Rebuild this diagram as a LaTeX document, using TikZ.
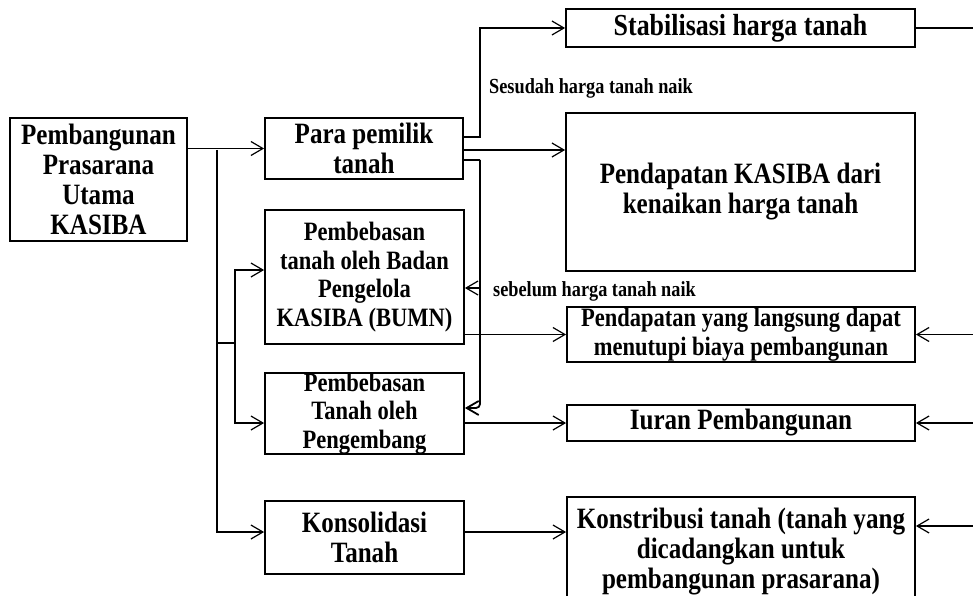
\documentclass[tikz,border=0pt]{standalone}
\usepackage{fontspec}
\setmainfont[FakeStretch=0.85]{Liberation Serif}
\usetikzlibrary{arrows.meta}
\tikzstyle{box}=[draw, line width=1.8pt, rectangle, inner sep=0pt, align=center, font=\bfseries\fontsize{29.5}{30}\selectfont]
\tikzstyle{small box}=[box, font=\bfseries\fontsize{26.5}{28.5}\selectfont]
\tikzstyle{wire}=[line width=1.2pt]
\tikzstyle{link}=[wire, -{Straight Barb[length=12pt, width=14pt]}]
\tikzstyle{note}=[inner sep=0pt, anchor=west, font=\bfseries\fontsize{21.5}{22}\selectfont]

\begin{document}
\begin{tikzpicture}[x=1pt, y=-1pt]
  \useasboundingbox (0,0) rectangle (973,596);
  \clip (0,0) rectangle (973,596);

  % left column
  \node[box, minimum width=177pt, minimum height=123pt] (main) at (98.5,179.5) {Pembangunan\\Prasarana\\Utama\\KASIBA};
  \node[box, minimum width=198pt, minimum height=61pt] (owners) at (364,148.5) {Para pemilik\\tanah};
  \node[small box, minimum width=199pt, minimum height=134pt] (bumn) at (364.5,277) {Pembebasan\\tanah oleh Badan\\Pengelola\\KASIBA (BUMN)};
  \node[small box, minimum width=199pt, minimum height=79pt] (developer) at (364.5,413.5) {Pembebasan\\Tanah oleh\\Pengembang};
  \node[box, minimum width=199pt, minimum height=73pt] (consol) at (364.5,537.5) {Konsolidasi\\Tanah};

  % right column
  \node[box, minimum width=349pt, minimum height=38pt, font=\bfseries\fontsize{30.5}{31}\selectfont] (stable) at (740.5,28) {Stabilisasi harga tanah};
  \node[box, minimum width=349pt, minimum height=158pt] (gain) at (740.5,192) {Pendapatan KASIBA dari\\kenaikan harga tanah};
  \node[small box, minimum width=348pt, minimum height=55pt] (direct) at (741,334.5) {Pendapatan yang langsung dapat\\menutupi biaya pembangunan};
  \node[box, minimum width=348pt, minimum height=36pt] (levy) at (741,423) {Iuran Pembangunan};
  \node[box, minimum width=348pt, minimum height=109pt] (share) at (741,551.5) {Konstribusi tanah (tanah yang\\dicadangkan untuk\\pembangunan prasarana)};

  \node[note] (after) at (489,88) {Sesudah harga tanah naik};
  \node[note] (before) at (493,291) {sebelum harga tanah naik};

  % junctions
  \coordinate (trunk) at (217,150);
  \coordinate (split) at (217,343);
  \coordinate (branch) at (235,343);
  \coordinate (up) at (480,137);
  \coordinate (level) at (500,150);
  \coordinate (back) at (480,160);
  \coordinate (rim) at (973,0);
  \coordinate (bumnin) at ([yshift=-11pt]bumn.east);
  \coordinate (consolout) at ([yshift=5.5pt]consol.east);
  \coordinate (sharein) at (915,526);

  % from the main box
  \draw[link] (main.east |- owners.west) -- (owners.west);
  \draw[link] (trunk) |- ([yshift=5.5pt]consol.west);
  \draw[wire] (split) -- (branch);
  \draw[link] (branch) |- ([yshift=7pt]bumn.west);
  \draw[link] (branch) |- ([yshift=-9.5pt]developer.west);

  % from the land owners
  \draw[link] (owners.east |- up) -- (up) |- (stable.west);
  \draw[link] (owners.east |- level) -- (gain.west |- level);
  \draw[wire, line width=1.8pt] (owners.east |- back) -- (back);
  \draw[link, line width=1.8pt, rounded corners=4pt] (back) |- ([yshift=5.5pt]developer.east);
  \draw[link] (back |- bumnin) -- (bumnin);

  % to the revenues
  \draw[link] (direct.west -| bumn.east) -- (direct.west);
  \draw[link] (levy.west -| developer.east) -- (levy.west);
  \draw[link] (consolout) -- (consolout -| share.west);

  % right edge
  \draw[wire] (stable.east) -- (stable.east -| rim);
  \draw[link] (direct.east -| rim) -- (direct.east);
  \draw[link] (levy.east -| rim) -- (levy.east);
  \draw[link] (sharein -| rim) -- (sharein -| share.east);
\end{tikzpicture}
\end{document}
